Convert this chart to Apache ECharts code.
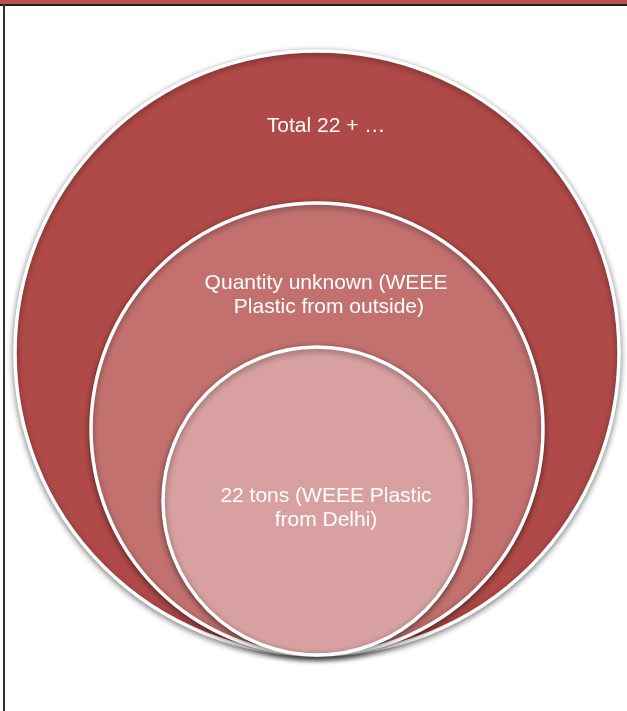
<!DOCTYPE html>
<html>
<head>
<meta charset="utf-8">
<script src="https://cdn.jsdelivr.net/npm/echarts@6/dist/echarts.min.js"></script>
<style>
html,body{margin:0;padding:0;background:#fff;}
#chart{width:627px;height:711px;}
</style>
</head>
<body>
<div id="chart"></div>
<script>
// Nested circles, outermost first
const labels = ["Total 22 + …", "Quantity unknown (WEEE\n\u00a0Plastic from outside)", "22 tons (WEEE Plastic\nfrom Delhi)"];
const radii = [302, 226, 154];
const fills = ["#b04a48", "#c3716f", "#d8a0a1"];
// vertical label placement inside each circle, as fraction of radius below the circle's top
const labelDrop = [0.25, 0.41, 1.05];

const chart = echarts.init(document.getElementById('chart'), null, {renderer: 'canvas'});
const R = radii[0];
const data = radii.map((r, i) => [0, r, r, i]);

chart.setOption({
  animation: false,
  backgroundColor: '#ffffff',
  grid: {left: 15, right: 8, top: 51, bottom: 56},
  xAxis: {type: 'value', min: -R, max: R, show: false},
  yAxis: {type: 'value', min: 0, max: 2 * R, show: false},
  graphic: [
    {type: 'rect', shape: {x: 0, y: 0, width: 627, height: 4}, style: {fill: '#b85448'}, z: 100},
    {type: 'rect', shape: {x: 0, y: 4, width: 627, height: 2}, style: {fill: '#222222'}, z: 100},
    {type: 'rect', shape: {x: 3, y: 4, width: 2, height: 707}, style: {fill: '#333333'}, z: 100}
  ],
  series: [{
    type: 'custom',
    coordinateSystem: 'cartesian2d',
    data: data,
    renderItem: function (params, api) {
      const c = api.coord([api.value(0), api.value(1)]);
      const rr = api.size([api.value(2), api.value(2)]);
      const r = rr[0];
      const i = api.value(3);
      const top = c[1] - r;
      return {
        type: 'group',
        children: [
          {
            type: 'circle',
            shape: {cx: c[0], cy: c[1], r: r},
            style: {
              fill: fills[i], stroke: '#ffffff', lineWidth: 3.5,
              shadowBlur: 6, shadowColor: 'rgba(0,0,0,0.45)', shadowOffsetY: 2
            }
          },
          {
            type: 'text',
            x: c[0] + 9,
            y: top + labelDrop[i] * r,
            style: {
              text: labels[i], fill: '#ffffff',
              font: '21px "Liberation Sans", Arial, sans-serif',
              align: 'center', verticalAlign: 'middle', lineHeight: 24
            }
          }
        ]
      };
    }
  }]
});
</script>
</body>
</html>
